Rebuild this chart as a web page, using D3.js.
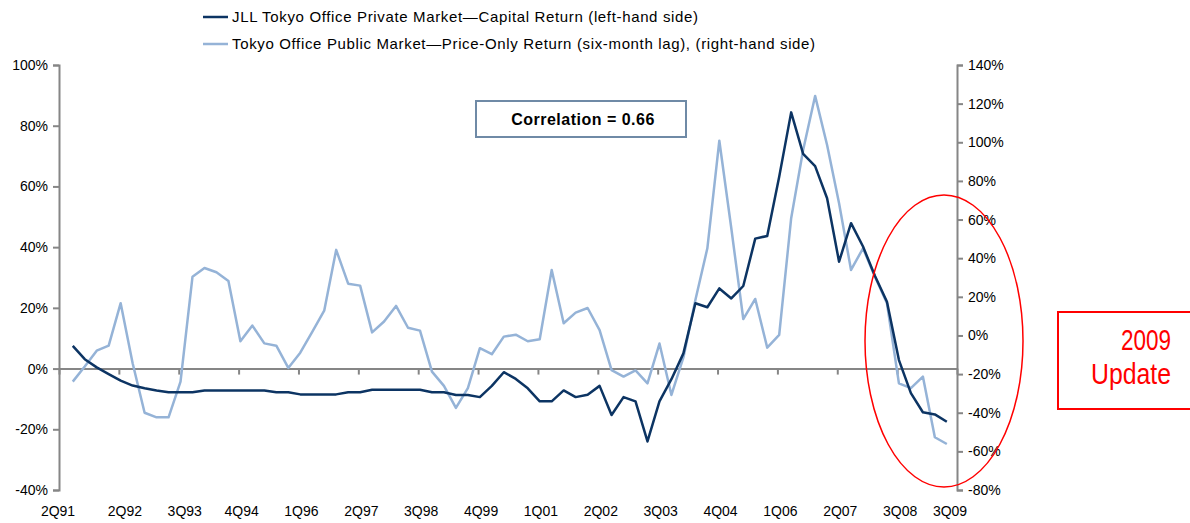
<!DOCTYPE html>
<html>
<head>
<meta charset="utf-8">
<script src="https://cdn.jsdelivr.net/npm/d3@7"></script>
<style>
  body { margin: 0; background: #fff; }
  text { font-family: "Liberation Sans", Arial, sans-serif; }
</style>
</head>
<body>
<div id="chart"></div>
<script>
// quarters 2Q91 .. 3Q09
const quarters = [];
for (let y = 1991; y <= 2009; y++) {
    for (let q = 1; q <= 4; q++) {
        if ((y === 1991 && q < 2) || (y === 2009 && q > 3)) continue;
        quarters.push(q + "Q" + String(y).slice(2));
    }
}

// JLL Tokyo Office Private Market - Capital Return (left axis, %)
const privateReturn = [
    7.5, 3.1, 0.4, -1.8, -4.0, -5.6, -6.5, -7.2, -7.8, -7.8,
    -7.8, -7.2, -7.2, -7.2, -7.2, -7.2, -7.2, -7.8, -7.8, -8.5,
    -8.5, -8.5, -8.5, -7.8, -7.8, -7.0, -7.0, -7.0, -7.0, -7.0,
    -7.8, -7.8, -8.7, -8.7, -9.4, -5.7, -1.2, -3.4, -6.5, -10.8,
    -10.8, -7.2, -9.4, -8.6, -5.7, -15.3, -9.4, -10.8, -24.0, -10.8,
    -3.5, 5.0, 21.5, 20.2, 26.4, 23.1, 27.2, 42.8, 43.7, 63.2,
    84.4, 70.7, 66.7, 56.1, 35.2, 47.9, 40.2, 30.5, 22.0, 2.8,
    -8.1, -14.4, -15.1, -17.5
];

// Tokyo Office Public Market - Price-Only Return, six-month lag (right axis, %)
const publicReturn = [
    -23.9, -16.1, -7.9, -5.3, 16.7, -14.4, -40.0, -42.4, -42.4, -23.9,
    30.4, 34.9, 32.7, 28.2, -3.0, 5.1, -4.1, -5.3, -16.8, -8.9,
    1.8, 12.8, 44.3, 26.8, 25.8, 1.6, 7.2, 15.3, 4.0, 2.5,
    -18.7, -26.1, -37.5, -27.3, -6.6, -9.7, -0.6, 0.4, -3.0, -2.0,
    33.9, 6.3, 11.8, 14.2, 2.8, -17.9, -21.3, -18.1, -24.8, -4.2,
    -30.8, -11.4, 18.4, 45.1, 100.8, 55.5, 8.5, 18.9, -6.3, 0.3,
    60.7, 96.0, 124.0, 98.6, 68.4, 33.9, 45.1, 30.4, 16.7, -24.8,
    -27.3, -21.3, -52.7, -56.2
];

const tickLabels = ["2Q91", "2Q92", "3Q93", "4Q94", "1Q96", "2Q97", "3Q98", "4Q99",
    "1Q01", "2Q02", "3Q03", "4Q04", "1Q06", "2Q07", "3Q08", "3Q09"];
const leftTicks = [100, 80, 60, 40, 20, 0, -20, -40];
const rightTicks = [140, 120, 100, 80, 60, 40, 20, 0, -20, -40, -60, -80];

const seriesNames = [
    "JLL Tokyo Office Private Market\u2014Capital Return (left-hand side)",
    "Tokyo Office Public Market\u2014Price-Only Return (six-month lag), (right-hand side)"
];
const correlationText = "Correlation = 0.66";
const noteLines = ["2009", "Update"];

const W = 1190, H = 523;
const margin = { top: 65, right: 233, bottom: 33, left: 59 },
    width = W - margin.left - margin.right,
    height = H - margin.top - margin.bottom;

const darkColor = "#0c3463", lightColor = "#95b3d7", axisColor = "#868686";

const svg = d3.select("#chart")
    .append("svg")
    .attr("width", W)
    .attr("height", H);

const g = svg.append("g")
    .attr("transform", `translate(${margin.left},${margin.top})`);

// x: quarter index; axis ends sit a little outside first/last points
const x = d3.scaleLinear()
    .domain([-1.15, 73.85])
    .range([0, width]);

const yL = d3.scaleLinear().domain([-40, 100]).range([height, 0]);
const yR = d3.scaleLinear().domain([-80, 140]).range([height, 0]);

const fmt = d => d + "%";

// left axis
const axL = g.append("g")
    .call(d3.axisLeft(yL).tickValues(leftTicks).tickFormat(fmt).tickSize(6).tickPadding(5));
// right axis
const axR = g.append("g")
    .attr("transform", `translate(${width},0)`)
    .call(d3.axisRight(yR).tickValues(rightTicks).tickFormat(fmt).tickSize(6).tickPadding(5));

[axL, axR].forEach(a => {
    a.select(".domain").attr("stroke", axisColor).attr("stroke-width", 2);
    a.selectAll(".tick line").attr("stroke", axisColor).attr("stroke-width", 2);
    a.selectAll(".tick text").attr("fill", "#000").style("font-size", "14px")
        .style("font-family", "'Liberation Sans', Arial, sans-serif");
});

// category axis at left 0%
const tickIdx = tickLabels.map((d, i) => -1.15 + i * 5);
const axX = g.append("g")
    .attr("transform", `translate(0,${yL(0)})`)
    .call(d3.axisBottom(x).tickValues(tickIdx).tickFormat("").tickSize(6).tickSizeOuter(0));
axX.select(".domain").attr("stroke", axisColor).attr("stroke-width", 2);
axX.selectAll(".tick line").attr("stroke", axisColor).attr("stroke-width", 2);

// category labels along the bottom
const last = tickLabels.length - 1;
g.append("g")
    .selectAll("text")
    .data(tickLabels)
    .join("text")
    .attr("x", (d, i) => x(tickIdx[i]) + (i === 0 ? -1 : i === last ? -7 : i < 3 ? 6 : 3))
    .attr("y", height + 26)
    .attr("text-anchor", "middle")
    .style("font-size", "14px")
    .text(d => d);

// lines
const lineL = d3.line().x((d, i) => x(i)).y(d => yL(d));
const lineR = d3.line().x((d, i) => x(i)).y(d => yR(d));

g.append("path")
    .datum(publicReturn)
    .attr("fill", "none")
    .attr("stroke", lightColor)
    .attr("stroke-width", 2.5)
    .attr("stroke-linejoin", "round")
    .attr("d", lineR);

g.append("path")
    .datum(privateReturn)
    .attr("fill", "none")
    .attr("stroke", darkColor)
    .attr("stroke-width", 2.5)
    .attr("stroke-linejoin", "round")
    .attr("d", lineL);

// legend
const legend = svg.append("g").attr("transform", "translate(203,17)");
legend.selectAll("g")
    .data(seriesNames)
    .join("g")
    .attr("transform", (d, i) => `translate(0,${i * 27})`)
    .each(function (d, i) {
        const s = d3.select(this);
        s.append("line").attr("x1", 0).attr("x2", 25).attr("y1", 0).attr("y2", 0)
            .attr("stroke", i === 0 ? darkColor : lightColor).attr("stroke-width", 2.5);
        s.append("text").attr("x", 29).attr("y", 5)
            .style("font-size", "15px").style("letter-spacing", "0.65px")
            .text(d);
    });

// correlation box
svg.append("rect")
    .attr("x", 476).attr("y", 101).attr("width", 210).attr("height", 36)
    .attr("fill", "#fff").attr("stroke", "#6f8aa6").attr("stroke-width", 2);
svg.append("text")
    .attr("x", 583).attr("y", 125)
    .attr("text-anchor", "middle")
    .style("font-size", "16px").style("font-weight", "bold").style("letter-spacing", "0.5px")
    .text(correlationText);

// red highlight ellipse + note
svg.append("ellipse")
    .attr("cx", 944).attr("cy", 341).attr("rx", 79).attr("ry", 146)
    .attr("fill", "none").attr("stroke", "#ff0000").attr("stroke-width", 1.5);

svg.append("rect")
    .attr("x", 1058).attr("y", 312).attr("width", 150).attr("height", 97)
    .attr("fill", "none").attr("stroke", "#ff0000").attr("stroke-width", 2);

svg.append("g")
    .selectAll("text")
    .data(noteLines)
    .join("text")
    .attr("x", 1171)
    .attr("y", (d, i) => 350 + i * 34)
    .attr("text-anchor", "end")
    .attr("fill", "#ff0000")
    .attr("textLength", (d, i) => i === 0 ? 50 : 80)
    .attr("lengthAdjust", "spacingAndGlyphs")
    .style("font-family", "'Liberation Sans Narrow', 'Arial Narrow', 'Liberation Sans', sans-serif")
    .style("font-size", "30px")
    .text(d => d);
</script>
</body>
</html>
